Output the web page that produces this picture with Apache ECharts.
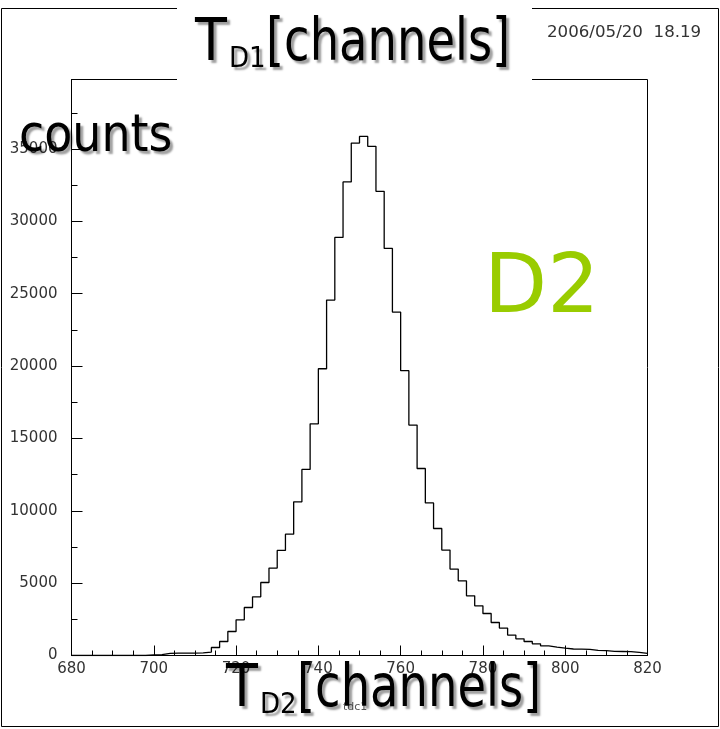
<!DOCTYPE html>
<html>
<head>
<meta charset="utf-8">
<style>
  html, body { margin: 0; padding: 0; background: #fff; }
  #chart { width: 720px; height: 729px; }
</style>
<script src="https://cdn.jsdelivr.net/npm/echarts@6/dist/echarts.min.js"></script>
</head>
<body>
<div id="chart"></div>
<script>
// TDC spectrum of detector D2: 2-channel bins from 680 to 820
const binStart = 680;
const binWidth = 2;
const counts = [
  0, 0, 0, 0, 0, 0, 0, 0,
  0, 45, 55, 150, 160, 165, 170, 175,
  235, 553, 968, 1659, 2467, 3318, 4057, 5045, 6040, 7257,
  8380, 10620, 12860, 16010, 19815, 24560, 28890, 32720, 35410, 35870,
  35180, 32070, 28130, 23730, 19680, 15920, 12920, 10540, 8777, 7284,
  5971, 5163, 4126, 3435, 2903, 2281, 1894, 1410, 1154, 968,
  809, 670, 580, 511, 450, 440, 430, 350, 340, 280,
  275, 270, 210, 140
];
const xTicks = [680, 700, 720, 740, 760, 780, 800, 820];
const yTicks = [0, 5000, 10000, 15000, 20000, 25000, 30000, 35000];
const dateStamp = '2006/05/20  18.19';

// step outline: each bin holds its value from its low edge to the next edge
const outline = counts.map((c, i) => [binStart + i * binWidth, c]);
outline.push([binStart + counts.length * binWidth, counts[counts.length - 1]]);

const chart = echarts.init(document.getElementById('chart'), null, { renderer: 'canvas' });

const shadow = {
  textShadowColor: 'rgba(0,0,0,0.38)',
  textShadowOffsetX: 3,
  textShadowOffsetY: 3,
  textShadowBlur: 2
};
const bigFont = '"DejaVu Sans Condensed", "DejaVu Sans", sans-serif';

// "T_sub[channels]" axis caption; (x, y) = left edge and bottom of the text line
function caption(x, y, sub) {
  return {
    type: 'group', x: x, y: y, z: 120,
    children: [
      { type: 'text', x: 0, y: 0, z: 120,
        style: Object.assign({ text: 'T', font: '58px ' + bigFont, fill: '#000',
          verticalAlign: 'bottom' }, shadow) },
      { type: 'text', x: 34, y: 0, z: 120,
        style: Object.assign({ text: sub, font: '29px ' + bigFont, fill: '#000',
          verticalAlign: 'bottom' }, shadow) },
      { type: 'text', x: 71, y: 0, z: 120, scaleX: 0.89,
        style: Object.assign({ text: '[channels]', font: '58px ' + bigFont, fill: '#000',
          verticalAlign: 'bottom' }, shadow) }
    ]
  };
}

const option = {
  animation: false,
  backgroundColor: '#fff',
  grid: { left: 71.5, right: 72.5, top: 79.5, bottom: 73.5, show: true,
          borderColor: '#000', borderWidth: 1, backgroundColor: 'transparent' },
  xAxis: {
    type: 'value', min: xTicks[0], max: xTicks[xTicks.length - 1], interval: 20,
    axisLine: { show: true, onZero: false, lineStyle: { color: '#000', width: 1 } },
    axisTick: { show: true, inside: true, length: 10, lineStyle: { color: '#000' } },
    minorTick: { show: true, splitNumber: 4, length: 5, lineStyle: { color: '#000' } },
    splitLine: { show: false },
    axisLabel: { color: '#333', fontFamily: 'DejaVu Sans', fontSize: 15, margin: 6,
      formatter: v => (xTicks.indexOf(v) >= 0 ? String(v) : '') }
  },
  yAxis: {
    type: 'value', min: 0, max: 39800, interval: 5000,
    axisLine: { show: true, lineStyle: { color: '#000', width: 1 } },
    axisTick: { show: true, inside: true, length: 11, lineStyle: { color: '#000' } },
    minorTick: { show: true, splitNumber: 2, length: 6, lineStyle: { color: '#000' } },
    splitLine: { show: false },
    axisLabel: { color: '#333', fontFamily: 'DejaVu Sans', fontSize: 15, margin: 14,
      showMaxLabel: false,
      formatter: v => (yTicks.indexOf(v) >= 0 ? String(v) : '') }
  },
  series: [{
    type: 'line', step: 'end', data: outline, symbol: 'none',
    lineStyle: { color: '#000', width: 1.3 }, z: 5
  }],
  graphic: [
    // canvas border
    { type: 'rect', z: 40, shape: { x: 1.5, y: 8.5, width: 717, height: 718 },
      style: { fill: null, stroke: '#000', lineWidth: 1 } },
    // white panel behind the upper caption
    { type: 'rect', z: 50, shape: { x: 177, y: 0, width: 355, height: 88 },
      style: { fill: '#fff', stroke: null } },
    { type: 'text', z: 60, x: 547, y: 26, scaleX: 1.11,
      style: { text: dateStamp, font: '15px "DejaVu Sans"', fill: '#333' } },
    caption(195, 74, 'D1'),
    { type: 'text', z: 60, x: 343, y: 702,
      style: { text: 'tdc1', font: '11px "DejaVu Sans"', fill: '#555' } },
    caption(226, 720, 'D2'),
    { type: 'text', z: 120, x: 19, y: 163,
      style: Object.assign({ text: 'counts', font: '51px ' + bigFont, fill: '#000',
        verticalAlign: 'bottom' }, shadow) },
    { type: 'text', z: 120, x: 484, y: 332,
      style: { text: 'D2', font: '82px "DejaVu Sans"', fill: '#99CC00',
        verticalAlign: 'bottom' } }
  ]
};
chart.setOption(option);
</script>
</body>
</html>
